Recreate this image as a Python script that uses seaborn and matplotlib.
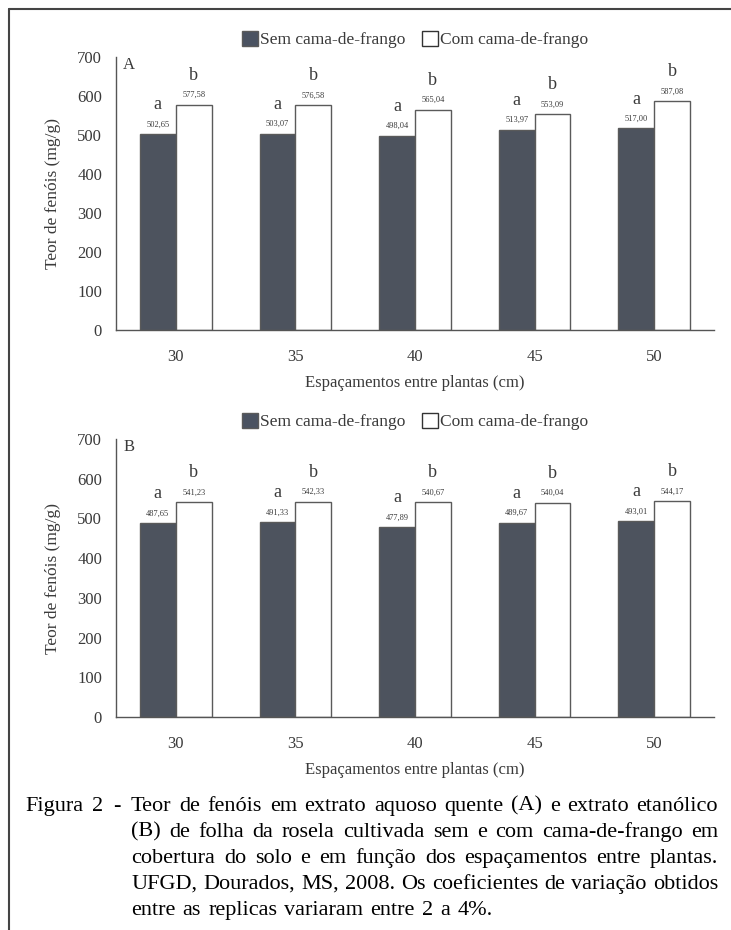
import matplotlib
matplotlib.use('Agg')
import matplotlib.pyplot as plt
from matplotlib.lines import Line2D
from matplotlib.patches import Patch
import seaborn as sns
import pandas as pd


# spacing between plants (cm)
espacamentos = ['30', '35', '40', '45', '50']
tratamentos = ['Sem cama-de-frango', 'Com cama-de-frango']

# A - hot aqueous extract
sem_A = [502.65, 503.07, 498.04, 513.97, 517.00]
com_A = [577.58, 576.58, 565.04, 553.09, 587.08]
# B - ethanolic extract
sem_B = [487.65, 491.33, 477.89, 489.67, 493.01]
com_B = [541.23, 542.33, 540.67, 540.04, 544.17]

letra_sem = 'a'
letra_com = 'b'

caption_head = 'Figura 2 -'
caption_lines = [
    'Teor de fenóis em extrato aquoso quente (A) e extrato etanólico',
    '(B) de folha da rosela cultivada sem e com cama-de-frango em',
    'cobertura do solo e em função dos espaçamentos entre plantas.',
    'UFGD, Dourados, MS, 2008. Os coeficientes de variação obtidos',
    'entre as replicas variaram entre 2 a 4%.',
]

DARK = '#4a5261'
EDGE = '#5a5a5a'
TXT = '#3a3a3a'

sns.set_style('white')
plt.rcParams['font.family'] = ['Liberation Serif', 'DejaVu Serif']


def build_df(sem, com):
    rows = []
    for e, s, c in zip(espacamentos, sem, com):
        rows.append({'esp': e, 'trat': tratamentos[0], 'teor': s})
        rows.append({'esp': e, 'trat': tratamentos[1], 'teor': c})
    return pd.DataFrame(rows)


def panel(ax, sem, com, tag):
    df = build_df(sem, com)
    sns.barplot(data=df, x='esp', y='teor', hue='trat', order=espacamentos,
                hue_order=tratamentos, palette=[DARK, 'white'],
                edgecolor=EDGE, linewidth=1.0, width=0.6, gap=0,
                errorbar=None, ax=ax)

    # value labels and letters above each bar
    for cont, letra in zip(ax.containers, [letra_sem, letra_com]):
        for bar in cont:
            h = bar.get_height()
            xc = bar.get_x() + bar.get_width() / 2
            ax.annotate(f'{h:.2f}'.replace('.', ','), (xc, h),
                        xytext=(0, 4), textcoords='offset points',
                        ha='center', va='bottom', fontsize=6, color=TXT)
            ax.annotate(letra, (xc, h), xytext=(0, 15),
                        textcoords='offset points', ha='center',
                        va='bottom', fontsize=13, color=TXT)

    ax.set_ylim(0, 700)
    ax.set_yticks(range(0, 701, 100))
    ax.set_xlim(-0.5, 4.5)
    ax.tick_params(length=0, labelsize=12, colors=TXT)
    ax.tick_params(axis='x', pad=14)
    ax.tick_params(axis='y', pad=10)
    ax.set_xlabel('Espaçamentos entre plantas (cm)', fontsize=12,
                  color=TXT, labelpad=7)
    ax.set_ylabel('Teor de fenóis (mg/g)', fontsize=12.5, color=TXT,
                  labelpad=12)
    sns.despine(ax=ax)
    for s in ['left', 'bottom']:
        ax.spines[s].set_color('#555555')
        ax.spines[s].set_linewidth(1.0)
    ax.text(0.012, 1.0, tag, transform=ax.transAxes, ha='left',
            va='top', fontsize=12, color=TXT)

    handles = [Patch(facecolor=DARK, edgecolor=EDGE),
               Patch(facecolor='white', edgecolor='#333333')]
    leg = ax.legend(handles, tratamentos, loc='lower center',
                    bbox_to_anchor=(0.5, 1.0), ncol=2, frameon=False,
                    fontsize=12.5, handlelength=0.9, handleheight=0.9,
                    handletextpad=0.1, columnspacing=1.0,
                    borderaxespad=0.1)
    for t in leg.get_texts():
        t.set_color(TXT)


W, H = 731, 930
fig = plt.figure(figsize=(W / 100, H / 100), dpi=100)

axA = fig.add_axes([116 / W, 1 - 330 / H, 598 / W, 273 / H])
axB = fig.add_axes([116 / W, 1 - 717 / H, 598 / W, 278 / H])
panel(axA, sem_A, com_A, 'A')
panel(axB, sem_B, com_B, 'B')

# frame lines (top and left)
fig.add_artist(Line2D([9 / W, 1], [1 - 9 / H, 1 - 9 / H], color='#444444',
                      lw=1.5, transform=fig.transFigure))
fig.add_artist(Line2D([9 / W, 9 / W], [1 - 9 / H, 0], color='#444444',
                      lw=1.5, transform=fig.transFigure))

# caption with hanging indent and justified lines
CAP = 16
renderer = fig.canvas.get_renderer()


def put_line(text, x0, x1, y, justify):
    words = text.split(' ')
    objs = [fig.text(0, 1 - y / H, w, fontsize=CAP, va='center',
                     ha='left', color='black') for w in words]
    widths = [o.get_window_extent(renderer).width for o in objs]
    if justify and len(words) > 1:
        gap = (x1 - x0 - sum(widths)) / (len(words) - 1)
    else:
        gap = CAP * 0.45
    x = x0
    for o, w in zip(objs, widths):
        o.set_x(x / W)
        x += w + gap


put_line(caption_head, 25, 120, 806, True)
for i, line in enumerate(caption_lines):
    y = 806 + i * 26
    put_line(line, 131, 718, y, i < len(caption_lines) - 1)

fig.savefig('out.png', dpi=100)
